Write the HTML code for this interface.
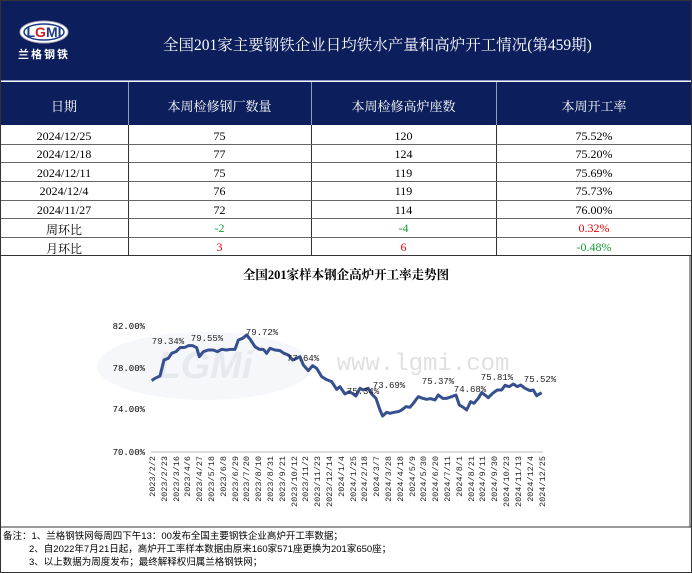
<!DOCTYPE html>
<html><head><meta charset="utf-8"><style>
*{margin:0;padding:0;box-sizing:border-box}
body{width:692px;height:573px;background:#fff;position:relative;overflow:hidden;font-family:"Liberation Serif","Noto Serif CJK SC",serif}
.hd{position:absolute;left:0;top:0;width:692px;height:81px;background:#0c1f5c;border-bottom:1px solid #8a9bc0}
.title{position:absolute;left:163px;top:33px;color:#fff;font-size:15.5px;white-space:nowrap}
.hr{position:absolute;left:0;top:82px;width:692px;height:43px;background:#0c1f5c}
.cell{position:absolute;text-align:center;font-size:12px;white-space:nowrap}
.vl{position:absolute;background:#8a9bc0;width:1px}
.hl{position:absolute;left:0;width:692px;height:1px;background:#666}
.cv{position:absolute;width:1px;background:#333;top:125px;height:130px}
.foot{position:absolute;left:3px;font-size:9.5px;font-family:"Liberation Sans","Noto Sans CJK SC",sans-serif;white-space:nowrap;color:#000}
</style></head><body>
<div class="hd">
<svg width="120" height="80" style="position:absolute;left:0;top:0">
<ellipse cx="44" cy="32" rx="24" ry="11" fill="#fff" stroke="#aab" stroke-width="1"/>
<ellipse cx="44" cy="32" rx="20" ry="8" fill="none" stroke="#1a3a8a" stroke-width="1.5"/>
<text x="44" y="37" text-anchor="middle" font-family="Liberation Sans" font-weight="bold" font-size="14" fill="#1a3a8a">L<tspan fill="#c22">G</tspan>MI</text>
<text x="44" y="58" text-anchor="middle" font-family="Noto Sans CJK SC" font-weight="bold" font-size="11" fill="#fff" letter-spacing="2">兰格钢铁</text>
</svg>
<div class="title">全国201家主要钢铁企业日均铁水产量和高炉开工情况(第459期)</div>
</div>
<div class="hr"></div>
<div class="vl" style="left:128px;top:82px;height:43px"></div>
<div class="vl" style="left:311px;top:82px;height:43px"></div>
<div class="vl" style="left:496px;top:82px;height:43px"></div>
<div class="cell" style="color:#fff;left:0;width:128px;top:96px;font-size:13px">日期</div>
<div class="cell" style="color:#fff;left:128px;width:183px;top:96px;font-size:13px">本周检修钢厂数量</div>
<div class="cell" style="color:#fff;left:311px;width:185px;top:96px;font-size:13px">本周检修高炉座数</div>
<div class="cell" style="color:#fff;left:496px;width:196px;top:96px;font-size:13px">本周开工率</div>
<div class="cv" style="left:128px"></div><div class="cv" style="left:311px"></div><div class="cv" style="left:496px"></div>
<div class="hl" style="top:144px"></div><div class="hl" style="top:162px"></div><div class="hl" style="top:181px"></div><div class="hl" style="top:200px"></div><div class="hl" style="top:218px"></div><div class="hl" style="top:237px"></div><div class="hl" style="top:255px;background:#333"></div>
<div style="position:absolute;left:0;top:0;width:692px;height:573px;border:1px solid #333;pointer-events:none"></div>

<div class="cell" style="left:0;width:128px;top:129px">2024/12/25</div><div class="cell" style="left:128px;width:183px;top:129px">75</div><div class="cell" style="left:311px;width:185px;top:129px">120</div><div class="cell" style="left:496px;width:196px;top:129px">75.52%</div>
<div class="cell" style="left:0;width:128px;top:147px">2024/12/18</div><div class="cell" style="left:128px;width:183px;top:147px">77</div><div class="cell" style="left:311px;width:185px;top:147px">124</div><div class="cell" style="left:496px;width:196px;top:147px">75.20%</div>
<div class="cell" style="left:0;width:128px;top:166px">2024/12/11</div><div class="cell" style="left:128px;width:183px;top:166px">75</div><div class="cell" style="left:311px;width:185px;top:166px">119</div><div class="cell" style="left:496px;width:196px;top:166px">75.69%</div>
<div class="cell" style="left:0;width:128px;top:184px">2024/12/4</div><div class="cell" style="left:128px;width:183px;top:184px">76</div><div class="cell" style="left:311px;width:185px;top:184px">119</div><div class="cell" style="left:496px;width:196px;top:184px">75.73%</div>
<div class="cell" style="left:0;width:128px;top:203px">2024/11/27</div><div class="cell" style="left:128px;width:183px;top:203px">72</div><div class="cell" style="left:311px;width:185px;top:203px">114</div><div class="cell" style="left:496px;width:196px;top:203px">76.00%</div>
<div class="cell" style="left:0;width:128px;top:221px">周环比</div><div class="cell" style="left:128px;width:183px;top:221px;color:#1a9a3a">-2</div><div class="cell" style="left:311px;width:185px;top:221px;color:#1a9a3a">-4</div><div class="cell" style="left:496px;width:196px;top:221px;color:#e00">0.32%</div>
<div class="cell" style="left:0;width:128px;top:240px">月环比</div><div class="cell" style="left:128px;width:183px;top:240px;color:#e00">3</div><div class="cell" style="left:311px;width:185px;top:240px;color:#e00">6</div><div class="cell" style="left:496px;width:196px;top:240px;color:#1a9a3a">-0.48%</div>

<div class="cell" style="left:0;width:692px;top:265px;font-weight:bold;font-size:12.5px">全国201家样本钢企高炉开工率走势图</div>

<svg width="692" height="573" style="position:absolute;left:0;top:0" font-family="Liberation Mono" font-size="9">
<ellipse cx="205" cy="366" rx="108" ry="34" fill="#eef2f8" opacity="0.6"/>
<text x="205" y="378" text-anchor="middle" font-family="Liberation Sans" font-weight="bold" font-size="38" fill="#e6e9ee" font-style="italic">LGMi</text>
<text x="423" y="370" text-anchor="middle" font-size="24" fill="#e0e0e0">www.lgmi.com</text>
<text x="145" y="329" text-anchor="end">82.00%</text>
<text x="145" y="371" text-anchor="end">78.00%</text>
<text x="145" y="412" text-anchor="end">74.00%</text>
<text x="145" y="455" text-anchor="end">70.00%</text>
<line x1="151" y1="452" x2="543" y2="452" stroke="#bbb"/>
<g transform="translate(100,300) scale(0.3333)">
<polyline fill="none" stroke="#36508f" stroke-width="9" stroke-linejoin="round" points="155,242 165,235 180,228 192,180 205,175 215,160 228,155 240,143 255,142 265,137 278,137 290,143 298,170 310,155 325,150 340,150 352,155 365,148 380,150 392,148 405,148 415,120 428,115 440,105 452,120 465,140 478,148 490,148 500,160 510,145 525,150 540,152 552,160 565,165 578,180 590,175 600,170 610,195 625,212 638,197 650,205 665,230 678,238 695,245 710,268 720,260 735,282 748,275 760,282 768,288 780,265 790,270 805,265 815,282 828,295 840,330 848,348 860,337 870,340 882,337 895,335 905,330 918,320 930,322 940,310 955,290 968,295 980,298 992,296 1005,300 1015,285 1028,295 1040,295 1055,290 1068,285 1078,315 1090,322 1100,330 1112,305 1122,310 1135,295 1145,278 1155,285 1165,293 1178,280 1192,270 1205,270 1215,256 1228,260 1240,252 1252,260 1262,255 1275,265 1290,272 1300,270 1310,287 1325,278"/>
</g>
<g text-anchor="middle" fill="#222">
<text x="168" y="344">79.34%</text><text x="207" y="341">79.55%</text><text x="262" y="335">79.72%</text>
<text x="303" y="361">77.64%</text><text x="363" y="394">75.34%</text><text x="389" y="388">73.69%</text>
<text x="438" y="384">75.37%</text><text x="470" y="392">74.68%</text><text x="497" y="380">75.81%</text><text x="540" y="382">75.52%</text>
</g>
<g font-size="8.5" text-anchor="end" fill="#222">
<text transform="translate(155,456) rotate(-90)">2023/2/2</text>
<text transform="translate(167,456) rotate(-90)">2023/2/23</text>
<text transform="translate(179,456) rotate(-90)">2023/3/16</text>
<text transform="translate(190,456) rotate(-90)">2023/4/6</text>
<text transform="translate(202,456) rotate(-90)">2023/4/27</text>
<text transform="translate(214,456) rotate(-90)">2023/5/18</text>
<text transform="translate(226,456) rotate(-90)">2023/6/8</text>
<text transform="translate(238,456) rotate(-90)">2023/6/29</text>
<text transform="translate(249,456) rotate(-90)">2023/7/20</text>
<text transform="translate(261,456) rotate(-90)">2023/8/10</text>
<text transform="translate(273,456) rotate(-90)">2023/8/31</text>
<text transform="translate(285,456) rotate(-90)">2023/9/21</text>
<text transform="translate(297,456) rotate(-90)">2023/10/12</text>
<text transform="translate(308,456) rotate(-90)">2023/11/2</text>
<text transform="translate(320,456) rotate(-90)">2023/11/23</text>
<text transform="translate(332,456) rotate(-90)">2023/12/14</text>
<text transform="translate(344,456) rotate(-90)">2024/1/4</text>
<text transform="translate(356,456) rotate(-90)">2024/1/25</text>
<text transform="translate(367,456) rotate(-90)">2024/2/18</text>
<text transform="translate(379,456) rotate(-90)">2024/3/7</text>
<text transform="translate(391,456) rotate(-90)">2024/3/28</text>
<text transform="translate(403,456) rotate(-90)">2024/4/18</text>
<text transform="translate(415,456) rotate(-90)">2024/5/9</text>
<text transform="translate(426,456) rotate(-90)">2024/5/30</text>
<text transform="translate(438,456) rotate(-90)">2024/6/20</text>
<text transform="translate(450,456) rotate(-90)">2024/7/11</text>
<text transform="translate(462,456) rotate(-90)">2024/8/1</text>
<text transform="translate(474,456) rotate(-90)">2024/8/21</text>
<text transform="translate(485,456) rotate(-90)">2024/9/11</text>
<text transform="translate(497,456) rotate(-90)">2024/9/30</text>
<text transform="translate(509,456) rotate(-90)">2024/10/23</text>
<text transform="translate(521,456) rotate(-90)">2024/11/13</text>
<text transform="translate(533,456) rotate(-90)">2024/12/4</text>
<text transform="translate(545,456) rotate(-90)">2024/12/25</text>
</g>
<line x1="0" y1="527" x2="692" y2="527" stroke="#333"/>
<line x1="690" y1="255" x2="690" y2="527" stroke="#333"/>
</svg>
<div class="foot" style="top:528px">备注：1、兰格钢铁网每周四下午13：00发布全国主要钢铁企业高炉开工率数据；</div>
<div class="foot" style="top:541px;left:29px">2、自2022年7月21日起，高炉开工率样本数据由原来160家571座更换为201家650座；</div>
<div class="foot" style="top:554px;left:29px">3、以上数据为周度发布；最终解释权归属兰格钢铁网；</div>
</body></html>
